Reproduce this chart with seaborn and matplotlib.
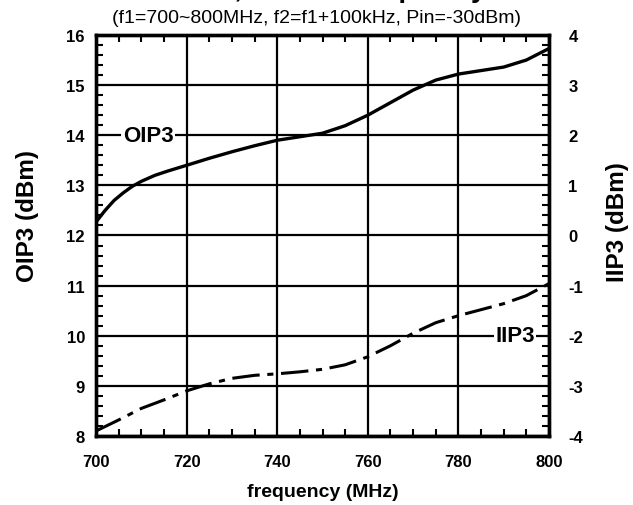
import matplotlib
matplotlib.use("Agg")
import matplotlib.pyplot as plt
import seaborn as sns
import pandas as pd
from matplotlib.ticker import MultipleLocator

sns.set_theme(style="ticks")
plt.rcParams['font.family'] = ['Liberation Sans', 'DejaVu Sans']
plt.rcParams['axes.unicode_minus'] = False
for k in ['text.color', 'axes.labelcolor', 'xtick.color', 'ytick.color', 'axes.edgecolor']:
    plt.rcParams[k] = 'black'

# OIP3 data (left axis, dBm)
oip3_freq = [700, 702, 704, 706, 708, 710, 713, 716, 720, 725, 730, 735, 740, 745,
             750, 755, 760, 765, 770, 775, 780, 785, 790, 795, 800]
oip3_vals = [12.27, 12.50, 12.70, 12.85, 12.98, 13.08, 13.20, 13.29, 13.40, 13.54,
             13.67, 13.79, 13.90, 13.97, 14.04, 14.19, 14.40, 14.65, 14.90, 15.10,
             15.22, 15.29, 15.36, 15.50, 15.73]

# IIP3 data (right axis, dBm)
iip3_freq = [700, 705, 710, 715, 720, 725, 730, 735, 740, 745, 750, 755, 760, 765,
             770, 775, 780, 785, 790, 795, 800]
iip3_vals = [-3.90, -3.68, -3.45, -3.28, -3.10, -2.96, -2.85, -2.79, -2.76, -2.72,
             -2.67, -2.58, -2.42, -2.20, -1.95, -1.74, -1.60, -1.48, -1.36, -1.20, -0.96]

x_ticks = [700, 720, 740, 760, 780, 800]

df_o = pd.DataFrame({"f": oip3_freq, "v": oip3_vals})
df_i = pd.DataFrame({"f": iip3_freq, "v": iip3_vals})

fig = plt.figure(figsize=(6.33, 5.06), dpi=100)
ax = fig.add_axes([0.1517, 0.1364, 0.7156, 0.7925])
ax2 = ax.twinx()

sns.lineplot(data=df_o, x="f", y="v", ax=ax, color="black", linewidth=2.4)
sns.lineplot(data=df_i, x="f", y="v", ax=ax2, color="black", linewidth=2.2,
             linestyle=(0, (9, 2.5, 2, 2.5)))

ax.set_xlim(700, 800)
ax.set_ylim(8, 16)
ax2.set_ylim(-4, 4)
ax.set_xticks(x_ticks)
ax.xaxis.set_minor_locator(MultipleLocator(5))
ax.yaxis.set_major_locator(MultipleLocator(1))
ax.yaxis.set_minor_locator(MultipleLocator(0.2))
ax2.yaxis.set_major_locator(MultipleLocator(1))
ax2.yaxis.set_minor_locator(MultipleLocator(0.2))

ax.grid(True, which="major", color="black", linewidth=1.6)
ax.set_axisbelow(True)

for a in (ax, ax2):
    for s in a.spines.values():
        s.set_linewidth(2.4)
        s.set_color("black")
ax.tick_params(axis="both", which="major", direction="in", length=0, width=1.5,
               labelsize=12, top=True, right=False)
ax.tick_params(axis="x", which="major", pad=13)
ax.tick_params(axis="y", which="major", pad=8)
ax.tick_params(axis="both", which="minor", direction="in", length=5, width=1.5,
               top=True, right=False)
ax2.tick_params(axis="y", which="major", direction="in", length=0, labelsize=12, pad=14)
ax2.tick_params(axis="y", which="minor", direction="in", length=5, width=1.5)
for lab in ax.get_xticklabels() + ax.get_yticklabels() + ax2.get_yticklabels():
    lab.set_fontweight("bold")

ax.set_xlabel("frequency (MHz)", fontsize=14, fontweight="bold", labelpad=10)
ax.set_ylabel("OIP3 (dBm)", fontsize=17.5, fontweight="bold")
ax2.set_ylabel("IIP3 (dBm)", fontsize=17.5, fontweight="bold")
ax.yaxis.set_label_coords(-0.126, 0.55)
ax2.yaxis.set_label_coords(1.126, 0.535)

ax.text(711.5, 14, "OIP3", fontsize=16, fontweight="bold", ha="center", va="center",
        bbox=dict(facecolor="white", edgecolor="none", pad=1.0), zorder=5)
ax2.text(792.5, -2, "IIP3", fontsize=16, fontweight="bold", ha="center", va="center",
         bbox=dict(facecolor="white", edgecolor="none", pad=1.0), zorder=5)

fig.text(0.52, 1.006, "OIP3, IIP3 vs. frequency", fontsize=20, fontweight="bold",
         ha="center", va="baseline")
fig.text(0.5, 0.964, "(f1=700~800MHz, f2=f1+100kHz, Pin=-30dBm)", fontsize=14,
         ha="center", va="center")

fig.savefig("out.png", dpi=100)
